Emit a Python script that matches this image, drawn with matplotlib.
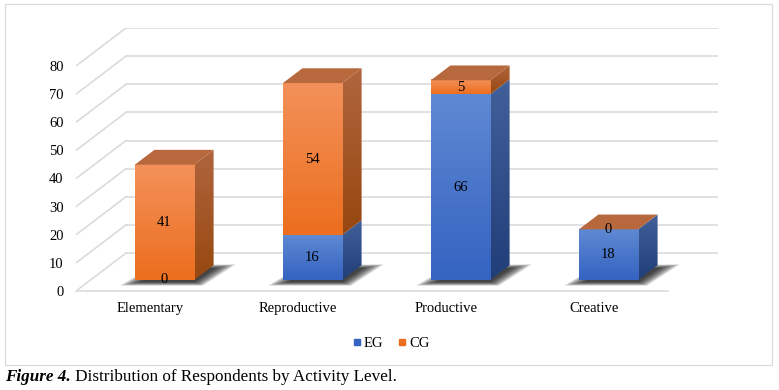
import matplotlib
matplotlib.use('Agg')
import matplotlib.pyplot as plt
import numpy as np
from matplotlib.patches import Polygon, Rectangle
from matplotlib.colors import LinearSegmentedColormap
from matplotlib.lines import Line2D

plt.rcParams['font.family'] = ['Liberation Serif', 'DejaVu Serif']

# data
categories = ['Elementary', 'Reproductive', 'Productive', 'Creative']
series_names = ['EG', 'CG']
eg_values = [0, 16, 66, 18]
cg_values = [41, 54, 5, 0]
y_ticks = [0, 10, 20, 30, 40, 50, 60, 70, 80]

# colours (front top, front bottom, side top, side bottom)
colors = {
    'EG': ('#5F89D3', '#3463C1', '#41609A', '#223E79'),
    'CG': ('#F3915A', '#EC6E1E', '#B0653D', '#974810'),
}
top_color = '#B7683D'
grid_color = '#D9D9D9'

# fake 3D geometry (depth offset in data units)
DX, DY = 0.338, 13.5
F1, F2 = 0.29, 0.68
bar_w = 0.40

fig = plt.figure(figsize=(7.79, 3.90), dpi=100)
ax = fig.add_axes([76 / 779, 99 / 390, 642 / 779, 263 / 390])
ax.set_xlim(-0.5, 3.5 + DX)
ax.set_ylim(0, 93.5)
for s in ax.spines.values():
    s.set_visible(False)
ax.set_yticks(y_ticks)
ax.set_xticks(range(len(categories)))
ax.set_xticklabels(categories)
ax.tick_params(axis='y', length=0, pad=9, labelsize=10.5)
ax.tick_params(axis='x', length=0, pad=8, labelsize=10.5)

# walls
for v in y_ticks:
    ax.plot([-0.5 + DX, 3.5 + DX], [v + DY, v + DY], color=grid_color, lw=1.1, zorder=1)
    ax.plot([-0.5, -0.5 + DX], [v, v + DY], color=grid_color, lw=1.1, zorder=1)
ax.plot([-0.5, 3.5], [0, 0], color=grid_color, lw=1.1, zorder=1, clip_on=False)


def grad_fill(x0, x1, y0, y1, c_top, c_bot, clip=None, z=3):
    cmap = LinearSegmentedColormap.from_list('g', [c_bot, c_top])
    g = np.linspace(0, 1, 64).reshape(-1, 1)
    im = ax.imshow(g, extent=(x0, x1, y0, y1), origin='lower', aspect='auto',
                   cmap=cmap, zorder=z, interpolation='bilinear')
    if clip is not None:
        im.set_clip_path(clip)
    return im


for i, cat in enumerate(categories):
    xl_f = i - bar_w / 2 + F1 * DX
    xr_f = i + bar_w / 2 + F1 * DX
    xl_b = xl_f + (F2 - F1) * DX
    xr_b = xr_f + (F2 - F1) * DX
    yf = F1 * DY
    yb = F2 * DY

    # soft shadow on the floor
    shadow = np.array([[xl_f - 0.10, yf - 2.0], [xr_f + 0.06, yf - 2.0],
                       [xr_b + 0.15, yb + 0.3], [xl_b, yb]])
    cen = shadow.mean(axis=0)
    for k in range(8):
        sc = 1.0 - k * 0.05
        ax.add_patch(Polygon(cen + (shadow - cen) * sc, closed=True, facecolor='black',
                             edgecolor='none', alpha=0.15, zorder=2))

    base = 0
    for name, vals in zip(series_names, [eg_values, cg_values]):
        v = vals[i]
        ft, fb, st, sb = colors[name]
        if v > 0:
            grad_fill(xl_f, xr_f, base + yf, base + v + yf, ft, fb, z=4)
            side = Polygon([[xr_f, base + yf], [xr_b, base + yb], [xr_b, base + v + yb],
                            [xr_f, base + v + yf]], closed=True, transform=ax.transData)
            grad_fill(xr_f, xr_b, base + yf, base + v + yb, st, sb, clip=side, z=3)
        ax.text((xl_f + xr_f) / 2, base + v / 2 + yf, str(v), ha='center', va='center',
                fontsize=10.5, zorder=6)
        base += v

    ax.add_patch(Polygon([[xl_f, base + yf], [xr_f, base + yf], [xr_b, base + yb],
                          [xl_b, base + yb]], closed=True, facecolor=top_color,
                         edgecolor='none', zorder=4))

# legend
handles = [Line2D([], [], marker='s', ls='none', markersize=5, color=colors[n][1]) for n in series_names]
fig.legend(handles, series_names, loc='center', bbox_to_anchor=(0.502, 0.12), ncol=2,
           frameon=False, fontsize=10.5, handlelength=0.6, handletextpad=0.2, columnspacing=1.0)

# chart border
fig.add_artist(Rectangle((5 / 779, 25 / 390), 767 / 779, 361 / 390, transform=fig.transFigure,
                         fill=False, edgecolor=grid_color, lw=0.8))

# caption
t1 = fig.text(5 / 779, 0.022, 'Figure 4.', fontsize=12.3, fontweight='bold', style='italic')
ax.annotate(' Distribution of Respondents by Activity Level.', xy=(1, 0), xycoords=t1,
            va='bottom', ha='left', fontsize=12.3, annotation_clip=False)

plt.savefig('out.png', dpi=100)
plt.close()
